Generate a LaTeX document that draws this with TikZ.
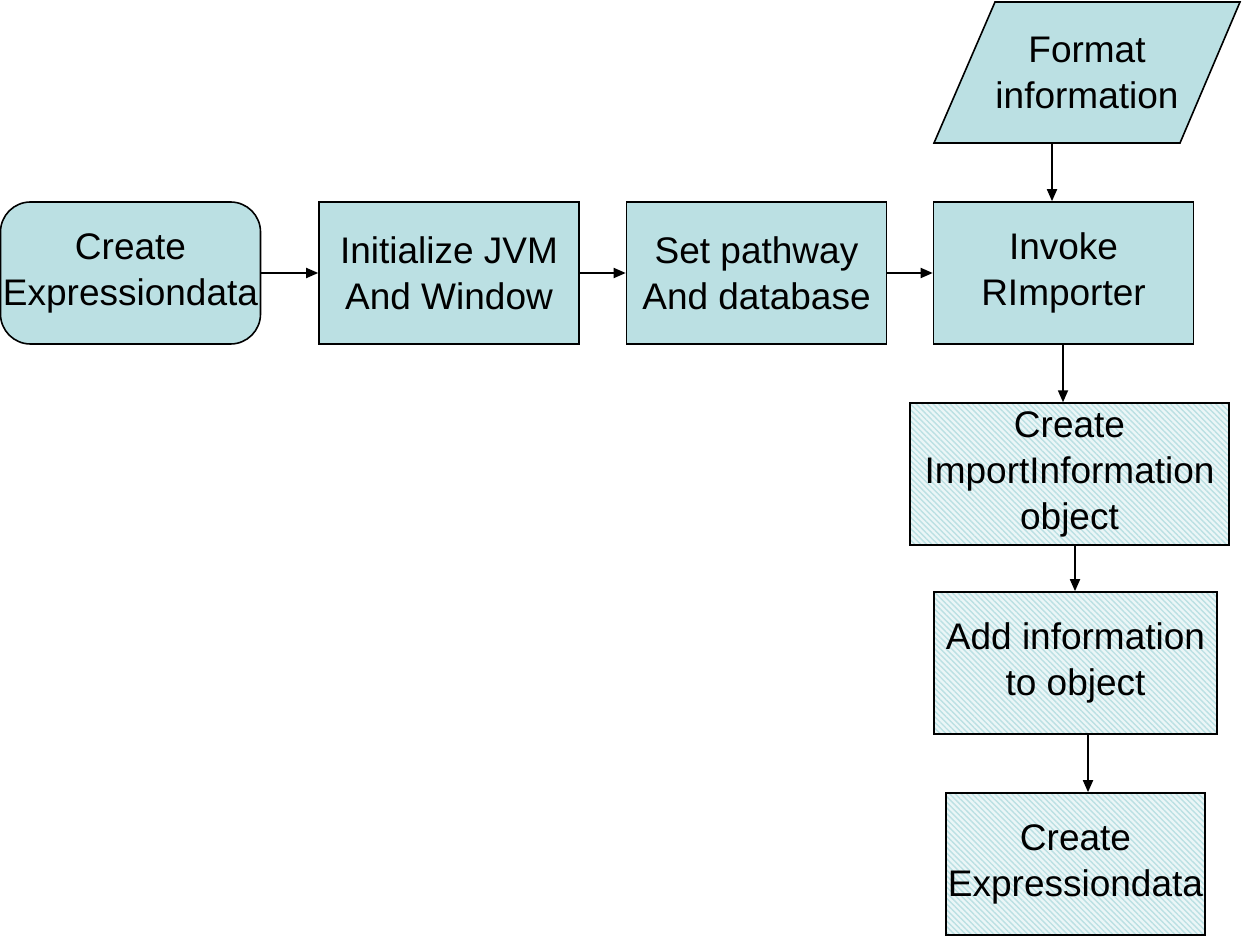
\documentclass[tikz,border=0pt]{standalone}
\usepackage{fontspec}
\setmainfont{Liberation Sans}
\usepackage{tikz}
\usetikzlibrary{arrows.meta,patterns.meta,calc}
\definecolor{boxfill}{HTML}{BBE0E3}

\begin{document}
\begin{tikzpicture}[
    x=0.5pt, y=-0.5pt,
    every node/.style={font=\fontsize{18.5}{23}\selectfont, align=center, inner sep=1pt},
    process/.style={rectangle, draw=black, line width=0.8pt, fill=boxfill, minimum width=130pt, minimum height=71pt},
    startbox/.style={process, rounded corners=15pt},
    inputshape/.style={draw=black, line width=0.8pt, fill=boxfill},
    hatched/.style={rectangle, draw=black, line width=0.8pt, minimum height=71pt,
        preaction={fill=boxfill!30}, pattern={Lines[angle=-45, distance=2pt, line width=0.7pt]}, pattern color=boxfill},
    arrow/.style={-{Triangle[length=6pt, width=5pt]}, line width=0.9pt}
]
\useasboundingbox (0,0) rectangle (1243,936);

% Top row
\node[startbox] (start) at (130.5,273) {Create\\Expressiondata};
\node[process] (init) at (449,273) {Initialize JVM\\And Window};
\node[process] (setpath) at (756.5,273) {Set pathway\\And database};
\node[process] (invoke) at (1063.5,273) {Invoke\\RImporter};

% Input (parallelogram)
\path[inputshape] (995,2) -- (1240,2) -- (1180,143) -- (934,143) -- cycle;
\node[minimum height=70.5pt] (format) at (1087,72.5) {Format\\information};

% Right column
\node[hatched, minimum width=159.5pt] (importinfo) at (1069.5,474) {Create\\ImportInformation\\object};
\node[hatched, minimum width=141.5pt] (addinfo) at (1075.5,663) {Add information\\to object};
\node[hatched, minimum width=129.5pt] (createexpr) at (1075.5,864) {Create\\Expressiondata};

% Arrows
\draw[arrow] (start) -- (init);
\draw[arrow] (init) -- (setpath);
\draw[arrow] (setpath) -- (invoke);
\coordinate (c1) at (1052,0);
\draw[arrow] (c1 |- format.south) -- (c1 |- invoke.north);
\coordinate (c2) at (1063,0);
\draw[arrow] (c2 |- invoke.south) -- (c2 |- importinfo.north);
\coordinate (c3) at (1075,0);
\draw[arrow] (c3 |- importinfo.south) -- (c3 |- addinfo.north);
\coordinate (c4) at (1088,0);
\draw[arrow] (c4 |- addinfo.south) -- (c4 |- createexpr.north);

\end{tikzpicture}
\end{document}
